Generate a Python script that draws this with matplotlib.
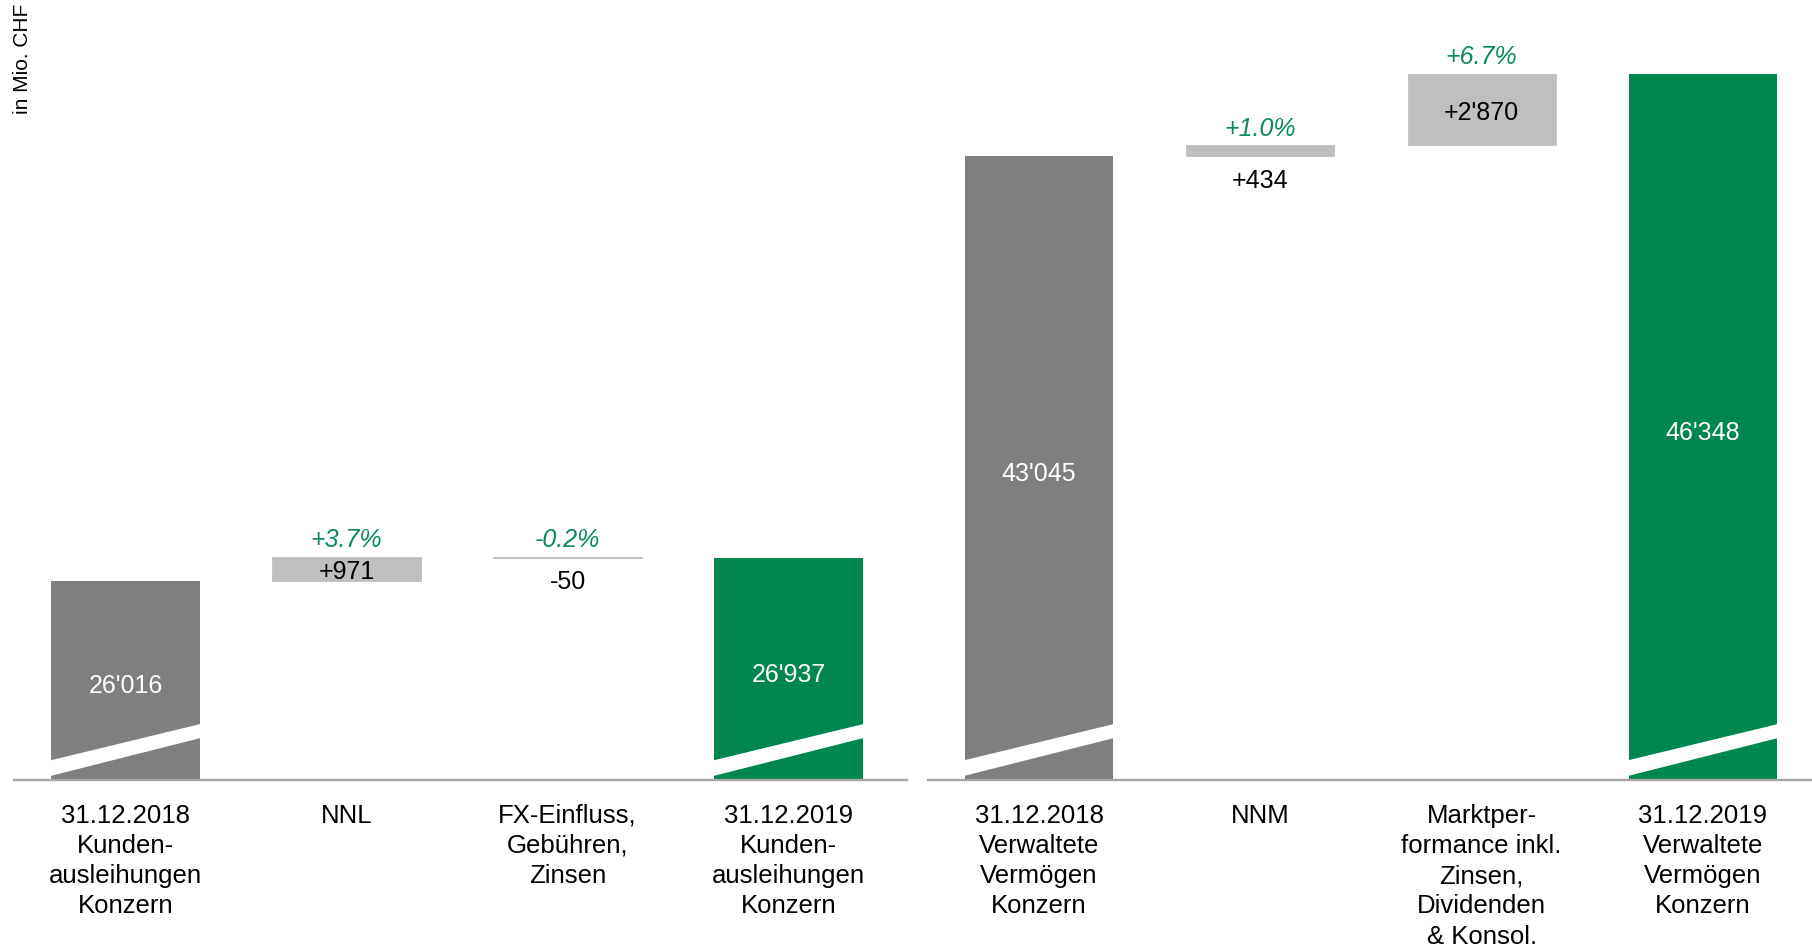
import matplotlib
matplotlib.use("Agg")
from matplotlib import pyplot as plt
from matplotlib import transforms
import numpy as np

plt.rcParams["font.family"] = ["Liberation Sans", "DejaVu Sans"]

# Daten (in Mio. CHF)
kategorien_links = [
  "31.12.2018\nKunden-\nausleihungen\nKonzern",
  "NNL",
  "FX-Einfluss,\nGebühren,\nZinsen",
  "31.12.2019\nKunden-\nausleihungen\nKonzern",
]
werte_links = [26016, 971, -50, 26937]
typ_links = ["total", "delta", "delta", "total"]
prozent_links = [None, "+3.7%", "-0.2%", None]

kategorien_rechts = [
  "31.12.2018\nVerwaltete\nVermögen\nKonzern",
  "NNM",
  "Marktper-\nformance inkl.\nZinsen,\nDividenden\n& Konsol.",
  "31.12.2019\nVerwaltete\nVermögen\nKonzern",
]
werte_rechts = [43045, 434, 2870, 46348]
typ_rechts = ["total", "delta", "delta", "total"]
prozent_rechts = [None, "+1.0%", "+6.7%", None]

# Farben
GRAU_DUNKEL = "#7F7F7F"
GRAU_HELL = "#BFBFBF"
GRUEN = "#00874F"
GRUEN_TEXT = "#0A8A55"
ACHSE = "#A6A6A6"

# abgeschnittene Y-Achse (Bruch)
Y_MIN = 18037
Y_MAX = 49312
BREITE = 0.67


def format_wert(v, vorzeichen=False):
  s = f"{abs(v):,}".replace(",", "'")
  if vorzeichen:
    return ("+" if v >= 0 else "-") + s
  return s


def zeichne_bruch(ax, x):
  # weisser schraeger Balken als Achsenbruch
  trans = transforms.blended_transform_factory(ax.transData, ax.transAxes)
  x0 = x - BREITE / 2 - 0.04
  x1 = x + BREITE / 2 + 0.02
  links_u, links_o = 0.0055, 0.0255
  rechts_u, rechts_o = 0.0535, 0.0715
  steig_u = (rechts_u - links_u) / BREITE
  steig_o = (rechts_o - links_o) / BREITE
  xa, xb = x - BREITE / 2, x + BREITE / 2
  ys = [links_u + steig_u * (x0 - xa), rechts_u + steig_u * (x1 - xb),
        rechts_o + steig_o * (x1 - xb), links_o + steig_o * (x0 - xa)]
  ax.fill([x0, x1, x1, x0], ys, color="white", transform=trans, zorder=3, lw=0)


def wasserfall(ax, kategorien, werte, typen, prozente, farbe_ende):
  pos = np.arange(len(werte))
  laufend = 0
  for i, (v, t) in enumerate(zip(werte, typen)):
    if t == "total":
      farbe = GRAU_DUNKEL if i == 0 else farbe_ende
      ax.bar(pos[i], v - Y_MIN, bottom=Y_MIN, width=BREITE, color=farbe, zorder=2)
      zeichne_bruch(ax, pos[i])
      ax.annotate(format_wert(v), (pos[i], (Y_MIN + v) / 2), xytext=(0, -4),
                  textcoords="offset points", ha="center", va="center",
                  color="white", fontsize=18, zorder=4)
      laufend = v
    else:
      unten = min(laufend, laufend + v)
      oben = max(laufend, laufend + v)
      ax.bar(pos[i], oben - unten, bottom=unten, width=BREITE, color=GRAU_HELL,
             edgecolor=GRAU_HELL, linewidth=0.6, zorder=2)
      if abs(v) > 900:
        # Beschriftung im Balken
        ax.annotate(format_wert(v, True), (pos[i], (unten + oben) / 2), xytext=(0, -2.5),
                    textcoords="offset points", ha="center", va="center",
                    color="black", fontsize=18, zorder=4)
      else:
        # Beschriftung unter dem Balken
        ax.annotate(format_wert(v, True), (pos[i], unten), xytext=(0, -17.5),
                    textcoords="offset points", ha="center", va="center",
                    color="black", fontsize=18, zorder=4)
      if prozente[i]:
        ax.annotate(prozente[i], (pos[i], oben), xytext=(0, 12),
                    textcoords="offset points", ha="center", va="center",
                    color=GRUEN_TEXT, fontsize=18, style="italic", zorder=4)
      laufend = laufend + v

  ax.set_ylim(Y_MIN, Y_MAX)
  ax.set_xticks(pos)
  ax.set_xticklabels(kategorien, fontsize=18.5, linespacing=1.33)
  ax.tick_params(axis="x", length=0, pad=17)
  ax.set_yticks([])
  for s in ["top", "right", "left"]:
    ax.spines[s].set_visible(False)
  ax.spines["bottom"].set_color(ACHSE)
  ax.spines["bottom"].set_linewidth(1.7)
  ax.set_facecolor("none")


fig = plt.figure(figsize=(18.12, 9.47), dpi=100)
ax_links = fig.add_axes([14 / 1812, 1 - 780 / 947, 893 / 1812, 780 / 947])
ax_rechts = fig.add_axes([928 / 1812, 1 - 780 / 947, 884 / 1812, 780 / 947])

wasserfall(ax_links, kategorien_links, werte_links, typ_links, prozent_links, GRUEN)
wasserfall(ax_rechts, kategorien_rechts, werte_rechts, typ_rechts, prozent_rechts, GRUEN)
ax_links.set_xlim(-0.5045, 3.536)
ax_rechts.set_xlim(-0.5016, 3.4926)

fig.text(23 / 1812, 1 - 4 / 947, "in Mio. CHF", rotation=90, ha="center", va="top",
         fontsize=15)

fig.savefig("out.png", dpi=100)
